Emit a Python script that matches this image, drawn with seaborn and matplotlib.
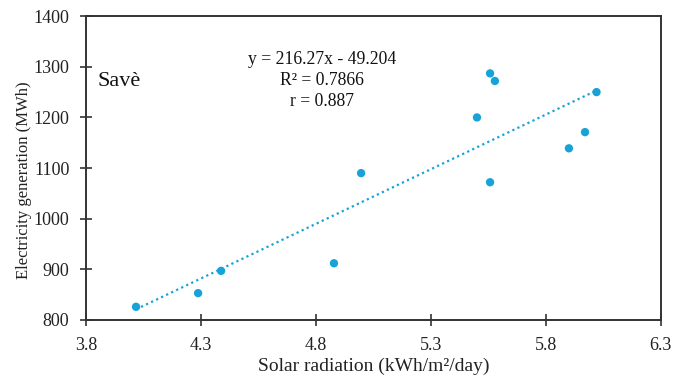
import numpy as np
import pandas as pd
import matplotlib
matplotlib.use("Agg")
import matplotlib.pyplot as plt
import seaborn as sns

# data
solar = [4.017, 4.287, 4.387, 4.878, 4.996, 5.500, 5.557, 5.578, 5.557, 5.900, 5.970, 6.020]
energy = [826, 853, 897, 912, 1090, 1200, 1287, 1272, 1072, 1139, 1171, 1250]
x_ticks = [3.8, 4.3, 4.8, 5.3, 5.8, 6.3]
y_ticks = [800, 900, 1000, 1100, 1200, 1300, 1400]

df = pd.DataFrame({"solar": solar, "energy": energy})

sns.set_style("white")
plt.rcParams["font.family"] = ["Liberation Serif", "DejaVu Serif"]

fig = plt.figure(figsize=(6.73, 3.76), dpi=100)
ax = fig.add_axes([0.128, 0.149, 0.854, 0.808])

blue = "#17a2d8"
sns.regplot(data=df, x="solar", y="energy", ax=ax, ci=None, truncate=True,
            scatter_kws={"s": 36, "color": blue, "edgecolor": "none", "alpha": 1},
            line_kws={"color": blue, "linestyle": (0, (1, 1.5)), "linewidth": 1.6})

ax.set_xlim(3.8, 6.3)
ax.set_ylim(800, 1400)
ax.set_xticks(x_ticks)
ax.set_yticks(y_ticks)
ax.set_xticklabels([f"{v:.1f}" for v in x_ticks])
ax.tick_params(axis="both", bottom=True, left=True, direction="inout", length=8,
               width=1.2, labelsize=13, colors="#333333", labelcolor="#222222")
ax.tick_params(axis="x", pad=8)
ax.tick_params(axis="y", pad=8)
for s in ax.spines.values():
    s.set_visible(True)
    s.set_color("#333333")
    s.set_linewidth(1.4)

ax.set_xlabel("Solar radiation (kWh/m²/day)", fontsize=14, color="#222222", labelpad=3)
ax.set_ylabel("Electricity generation (MWh)", fontsize=12, color="#222222", labelpad=1)
ax.yaxis.label.set_y(0.46)

ax.text(0.41, 0.787, "y = 216.27x - 49.204\nR² = 0.7866\nr = 0.887", transform=ax.transAxes,
        ha="center", va="center", fontsize=12.7, linespacing=1.3, color="#111111")
ax.text(0.019, 0.785, "Savè", transform=ax.transAxes, ha="left", va="center",
        fontsize=16, color="#111111")

fig.savefig("out.png", dpi=100)
